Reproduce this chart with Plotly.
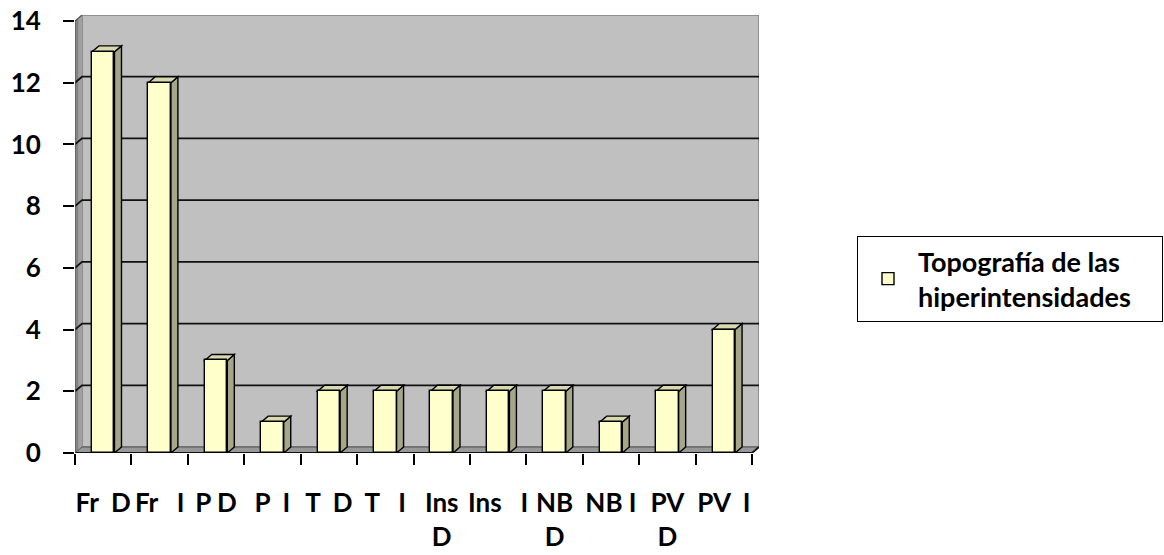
import plotly.graph_objects as go

# Hiperintensidades por localización
categories = ["Fr D", "Fr I", "P D", "P I", "T D", "T I",
              "Ins D", "Ins I", "NB D", "NB I", "PV D", "PV I"]
values = [13, 12, 3, 1, 2, 2, 2, 2, 2, 1, 2, 4]
NB = "\u00a0"
tick_text = ["Fr" + NB * 2 + "D", "Fr" + NB * 3 + "I", "P" + NB + "D", "P" + NB * 2 + "I",
             "T" + NB * 2 + "D", "T" + NB * 3 + "I", "Ins<br>D", "Ins" + NB * 3 + "I",
             "NB<br>D", "NB" + NB + "I", "PV<br>D", "PV" + NB * 2 + "I"]
y_ticks = [0, 2, 4, 6, 8, 10, 12, 14]
series_name = "Topografía de las<br>hiperintensidades" + NB * 4

# 3-D look: depth offsets in axis units
DX = 0.124   # horizontal depth (category units)
DY = 0.194   # vertical depth (value units)
BAR_W = 0.4
n = len(categories)
xs = list(range(n))
x_lo, x_hi = -0.5, n - 0.5
y_top = max(y_ticks)

FONT = dict(family="Lato", size=26, color="black", weight="bold")

shapes = []

def path(points):
    return "M " + " L ".join(f"{px},{py}" for px, py in points) + " Z"

def open_path(points):
    return "M " + " L ".join(f"{px},{py}" for px, py in points)

# back wall
shapes.append(dict(type="rect", xref="x", yref="y", layer="below",
                   x0=x_lo + DX, x1=x_hi + DX, y0=DY, y1=y_top + DY,
                   fillcolor="#C0C0C0", line=dict(color="#7F7F7F", width=1.5)))
# side wall (two tones)
shapes.append(dict(type="path", xref="x", yref="y", layer="below",
                   path=path([(x_lo, 0), (x_lo, y_top), (x_lo + DX, y_top + DY), (x_lo + DX, DY)]),
                   fillcolor="#A0A0A0", line=dict(width=0)))
shapes.append(dict(type="path", xref="x", yref="y", layer="below",
                   path=path([(x_lo, 0), (x_lo, y_top), (x_lo + DX * 0.45, y_top + DY * 0.45),
                              (x_lo + DX * 0.45, DY * 0.45)]),
                   fillcolor="#828282", line=dict(width=0)))
# floor
shapes.append(dict(type="path", xref="x", yref="y", layer="below",
                   path=path([(x_lo, 0), (x_hi, 0), (x_hi + DX, DY), (x_lo + DX, DY)]),
                   fillcolor="#989898", line=dict(color="#555555", width=1)))
# gridlines on side wall and back wall
for v in y_ticks[1:-1]:
    shapes.append(dict(type="path", xref="x", yref="y", layer="below",
                       path=open_path([(x_lo, v), (x_lo + DX, v + DY), (x_hi + DX, v + DY)]),
                       line=dict(color="#111111", width=1.8)))
# front edges
shapes.append(dict(type="path", xref="x", yref="y", layer="below",
                   path=open_path([(x_lo, 0), (x_hi, 0), (x_hi + DX, DY)]),
                   line=dict(color="#111111", width=1.8)))
shapes.append(dict(type="path", xref="x", yref="y", layer="below",
                   path=open_path([(x_lo, 0), (x_lo, y_top), (x_lo + DX, y_top + DY)]),
                   line=dict(color="#555555", width=1.2)))

# side and top faces of each column
for x, v in zip(xs, values):
    xl, xr = x - BAR_W / 2, x + BAR_W / 2
    shapes.append(dict(type="path", xref="x", yref="y", layer="below",
                       path=path([(xr, 0), (xr, v), (xr + DX, v + DY), (xr + DX, DY)]),
                       fillcolor="#A6A688", line=dict(color="black", width=1.4)))
    shapes.append(dict(type="path", xref="x", yref="y", layer="below",
                       path=path([(xl, v), (xr, v), (xr + DX, v + DY), (xl + DX, v + DY)]),
                       fillcolor="#D9D9AE", line=dict(color="black", width=1.4)))

fig = go.Figure()
fig.add_trace(go.Bar(
    x=xs, y=values, width=BAR_W, name=series_name,
    marker=dict(color="#FFFFCC", line=dict(color="black", width=1.4)),
    showlegend=True,
))

fig.update_layout(
    width=1164, height=555,
    margin=dict(l=75, r=405, t=15, b=102, autoexpand=False),
    paper_bgcolor="white", plot_bgcolor="white",
    shapes=shapes,
    bargap=0,
    xaxis=dict(
        range=[x_lo, x_hi + DX], tickmode="array", tickvals=xs, ticktext=tick_text,
        ticks="", showgrid=False, zeroline=False, showline=False, automargin=False,
        tickfont=FONT, ticklabelstandoff=32,
        minor=dict(tickmode="array", tickvals=[x_lo + i for i in range(n + 1)],
                   ticks="outside", ticklen=11, tickwidth=1.5, tickcolor="black",
                   showgrid=False),
    ),
    yaxis=dict(
        range=[0, y_top + DY], tickmode="array", tickvals=y_ticks,
        ticks="outside", ticklen=11, tickwidth=1.5, tickcolor="black",
        showgrid=False, zeroline=False, showline=False, automargin=False,
        tickfont=FONT, ticklabelstandoff=17,
    ),
    legend=dict(
        x=(857 - 75) / 684, y=(453 - 279) / 438, xanchor="left", yanchor="middle",
        bgcolor="white", bordercolor="black", borderwidth=1, itemwidth=50,
        font=dict(family="Lato", size=27, color="black", weight="bold"),
    ),
)

fig.write_html("out.html")
